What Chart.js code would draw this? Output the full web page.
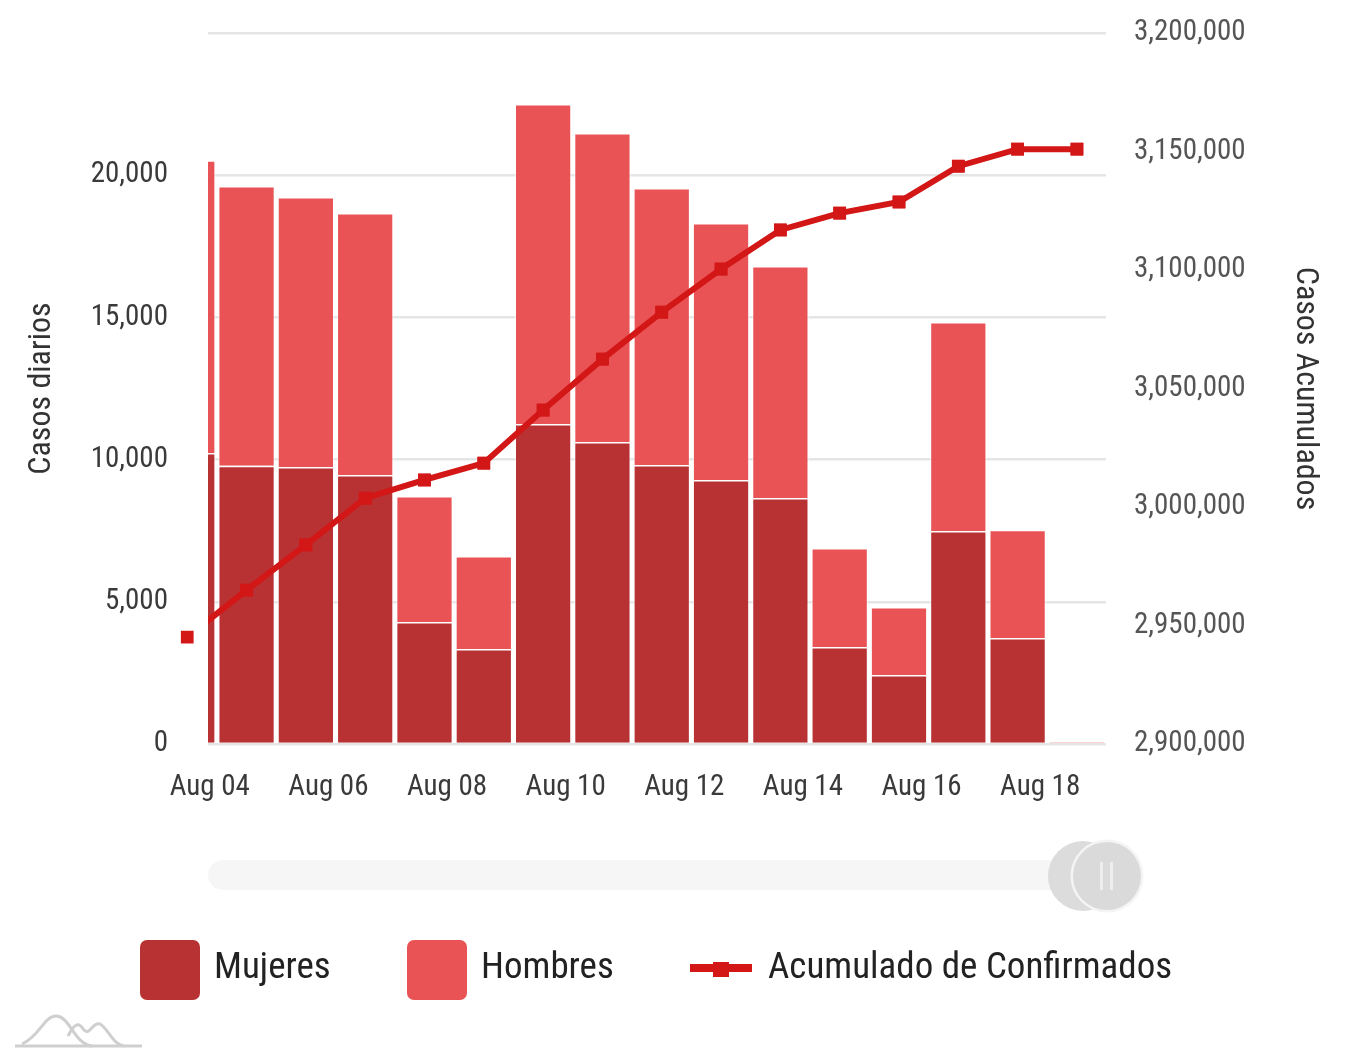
<!DOCTYPE html>
<html>
<head>
<meta charset="utf-8">
<script src="https://cdn.jsdelivr.net/npm/chart.js@4.4.1/dist/chart.umd.min.js"></script>
<style>
  html, body { margin: 0; padding: 0; background: #fff; }
  #wrap { width: 1348px; height: 1052px; position: relative; }
</style>
</head>
<body>
<div id="wrap"><canvas id="casos" width="1348" height="1052"></canvas></div>
<script>
// datos diarios (Aug 03 queda cortado por el borde izquierdo)
const dias       = ['Aug 03', 'Aug 04', 'Aug 05', 'Aug 06', 'Aug 07', 'Aug 08', 'Aug 09', 'Aug 10',
                    'Aug 11', 'Aug 12', 'Aug 13', 'Aug 14', 'Aug 15', 'Aug 16', 'Aug 17', 'Aug 18'];
const mujeres    = [10230, 9780, 9740, 9460, 4290, 3340, 11250, 10620, 9810, 9280, 8650, 3410, 2430, 7490, 3730, 50];
const hombres    = [10300, 9840, 9490, 9210, 4430, 3270, 11250, 10860, 9740, 9040, 8160, 3480, 2390, 7350, 3800, 40];
const acumulado  = [2945100, 2964900, 2984000, 3003700, 3011400, 3018500, 3040900, 3062400,
                    3082200, 3100400, 3116900, 3124000, 3128700, 3143800, 3151000, 3151000];
const etiquetasX = ['Aug 04', 'Aug 06', 'Aug 08', 'Aug 10', 'Aug 12', 'Aug 14', 'Aug 16', 'Aug 18'];

const FONT    = "'Roboto Condensed', 'Liberation Sans', sans-serif";
const C_MUJ   = '#b83234';
const C_HOM   = '#e95356';
const C_LINEA = '#d31616';
const DESFASE = 0.62;   // las etiquetas de fecha van algo antes del centro de la barra

const pts = arr => arr.map((v, i) => ({ x: i, y: v }));

// los marcadores de la linea se ven aunque caigan fuera del area (Aug 03)
const marcadores = {
    id: 'marcadores',
    afterDatasetsDraw(chart) {
        const todo = { left: 0, top: 0, right: chart.width, bottom: chart.height };
        chart.getDatasetMeta(0).data.forEach(p => p.draw(chart.ctx, todo));
    }
};

// scrollbar, leyenda y logo
const extras = {
    id: 'extras',
    afterDraw(chart) {
        const ctx = chart.ctx;
        ctx.save();

        // scrollbar
        ctx.fillStyle = '#f6f6f6';
        ctx.beginPath();
        ctx.roundRect(208, 860, 900, 30, 15);
        ctx.fill();
        ctx.fillStyle = '#dcdcdc';
        ctx.beginPath(); ctx.arc(1083, 876, 35, 0, Math.PI * 2); ctx.fill();
        ctx.strokeStyle = '#f4f4f4'; ctx.lineWidth = 3;
        ctx.beginPath(); ctx.arc(1107, 876, 35, 0, Math.PI * 2); ctx.stroke();
        ctx.fillStyle = '#dadada';
        ctx.beginPath(); ctx.arc(1107, 876, 34, 0, Math.PI * 2); ctx.fill();
        ctx.fillStyle = '#eeeeee';
        ctx.fillRect(1100, 862, 3, 28);
        ctx.fillRect(1110, 862, 3, 28);

        // leyenda
        const yl = 969;
        ctx.font = '37px ' + FONT;
        ctx.textBaseline = 'middle';
        ctx.fillStyle = C_MUJ;
        ctx.beginPath(); ctx.roundRect(140, 940, 60, 60, 7); ctx.fill();
        ctx.fillStyle = C_HOM;
        ctx.beginPath(); ctx.roundRect(407, 940, 60, 60, 7); ctx.fill();
        ctx.fillStyle = C_LINEA;
        ctx.fillRect(690, 964, 62, 8);
        ctx.fillRect(713, 962, 16, 15);
        ctx.fillStyle = '#222';
        ctx.fillText(chart.data.datasets[1].label, 214, yl);
        ctx.fillText(chart.data.datasets[2].label, 481, yl);
        ctx.fillText(chart.data.datasets[0].label, 768, yl);

        // logo
        ctx.strokeStyle = '#cfcfcf'; ctx.lineWidth = 3;
        ctx.beginPath();
        ctx.moveTo(15, 1046); ctx.lineTo(142, 1046);
        ctx.stroke();
        ctx.beginPath();
        ctx.moveTo(22, 1044);
        ctx.bezierCurveTo(40, 1036, 44, 1016, 56, 1016);
        ctx.bezierCurveTo(70, 1016, 74, 1044, 92, 1046);
        ctx.stroke();
        ctx.beginPath();
        ctx.moveTo(68, 1036);
        ctx.bezierCurveTo(76, 1020, 80, 1024, 84, 1030);
        ctx.bezierCurveTo(90, 1036, 92, 1022, 100, 1024);
        ctx.bezierCurveTo(108, 1028, 112, 1044, 124, 1046);
        ctx.stroke();

        ctx.restore();
    }
};

// ancho fijo de los ejes verticales, sin el relleno extra de las etiquetas
const fijarAncho = w => s => { s.width = w; s.paddingTop = 0; s.paddingBottom = 0; };

new Chart(document.getElementById('casos'), {
    type: 'bar',
    data: {
        datasets: [
            {
                type: 'line',
                label: 'Acumulado de Confirmados',
                data: pts(acumulado),
                yAxisID: 'y1',
                borderColor: C_LINEA,
                borderWidth: 6,
                pointStyle: 'rect',
                pointRadius: 9,
                pointBackgroundColor: C_LINEA,
                pointBorderWidth: 0,
                tension: 0,
                order: 0,
            },
            {
                label: 'Mujeres',
                data: pts(mujeres),
                backgroundColor: C_MUJ,
                borderColor: 'rgba(255,255,255,0.45)',
                borderWidth: 1.5,
                categoryPercentage: 1,
                barPercentage: 0.965,
                order: 1,
            },
            {
                label: 'Hombres',
                data: pts(hombres),
                backgroundColor: C_HOM,
                borderColor: 'rgba(255,255,255,0.45)',
                borderWidth: 1.5,
                categoryPercentage: 1,
                barPercentage: 0.965,
                order: 1,
            }
        ]
    },
    options: {
        responsive: false,
        animation: false,
        layout: { padding: { top: 33, left: 0, right: 0, bottom: 0 } },
        plugins: { legend: { display: false }, tooltip: { enabled: false } },
        scales: {
            x: {
                type: 'linear',
                stacked: true,
                offset: false,
                min: 0.35,
                max: 15.49,
                grid: { display: false, drawTicks: false },
                border: { display: false },
                afterFit: s => { s.height = 308; },
                afterBuildTicks: s => {
                    s.ticks = etiquetasX.map(l => ({ value: dias.indexOf(l) - DESFASE }));
                },
                ticks: {
                    autoSkip: false,
                    maxRotation: 0,
                    padding: 26,
                    color: '#3a3a3a',
                    font: { family: FONT, size: 29 },
                    callback: v => dias[Math.round(v + DESFASE)],
                }
            },
            y: {
                stacked: true,
                position: 'left',
                min: 0,
                max: 25000,
                z: 1,
                grid: { color: 'rgba(0,0,0,0.1)', lineWidth: 2.5, drawTicks: false },
                border: { display: false },
                afterFit: fijarAncho(208),
                ticks: {
                    stepSize: 5000,
                    padding: 40,
                    color: '#3a3a3a',
                    font: { family: FONT, size: 29 },
                    callback: v => v >= 25000 ? '' : v.toLocaleString('en-US'),
                },
                title: {
                    display: true,
                    text: 'Casos diarios',
                    color: '#333',
                    font: { family: FONT, size: 32 },
                    padding: { top: 23, bottom: 0 },
                }
            },
            y1: {
                position: 'right',
                min: 2900000,
                max: 3200000,
                grid: { display: false, drawTicks: false },
                border: { display: false },
                afterFit: fijarAncho(242),
                ticks: {
                    stepSize: 50000,
                    padding: 28,
                    color: '#555',
                    font: { family: FONT, size: 29 },
                    callback: v => v.toLocaleString('en-US'),
                },
                title: {
                    display: true,
                    text: 'Casos Acumulados',
                    color: '#333',
                    font: { family: FONT, size: 32 },
                    padding: { top: 24, bottom: 0 },
                }
            }
        }
    },
    plugins: [marcadores, extras]
});
</script>
</body>
</html>
